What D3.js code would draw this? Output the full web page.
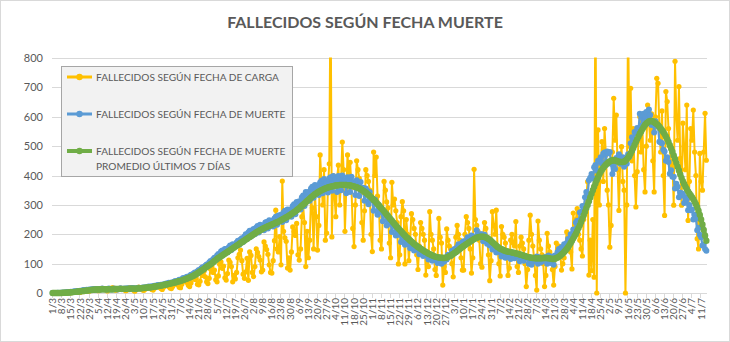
<!DOCTYPE html>
<html><head><meta charset="utf-8">
<script src="https://cdn.jsdelivr.net/npm/d3@7"></script>
<style>body{margin:0;background:#fff}svg{display:block}</style>
</head><body>
<svg id="chart" width="730" height="342"></svg>
<script>
const chartTitle = "FALLECIDOS SEGÚN FECHA MUERTE";
const seriesNames = [
  ["FALLECIDOS SEGÚN FECHA DE CARGA"],
  ["FALLECIDOS SEGÚN FECHA DE MUERTE"],
  ["FALLECIDOS SEGÚN FECHA DE MUERTE", "PROMEDIO ÚLTIMOS 7 DÍAS"]
];
const firstDay = "2020-03-01";
const yTicks = [0,100,200,300,400,500,600,700,800];
const tickLabels = ["1/3","8/3","15/3","22/3","29/3","5/4","12/4","19/4","26/4","3/5","10/5","17/5","24/5","31/5","7/6","14/6","21/6","28/6","5/7","12/7","19/7","26/7","2/8","9/8","16/8","23/8","30/8","6/9","13/9","20/9","27/9","4/10","11/10","18/10","25/10","1/11","8/11","15/11","22/11","29/11","6/12","13/12","20/12","27/12","3/1","10/1","17/1","24/1","31/1","7/2","14/2","21/2","28/2","7/3","14/3","21/3","28/3","4/4","11/4","18/4","25/4","2/5","9/5","16/5","23/5","30/5","6/6","13/6","20/6","27/6","4/7","11/7"];

const carga = [
0,0,0,0,0,0,1, 0,1,1,0,2,1,1, 1,2,4,3,5,4,3, 2,6,8,5,9,7,8, 6,9,12,14,10,13,11,
8,10,14,16,12,15,9, 7,11,16,14,18,12,10, 9,12,15,17,13,14,11, 8,10,16,18,14,12,9, 6,12,17,20,15,13,10,
9,14,19,22,18,16,12, 10,16,24,21,26,20,15, 12,20,28,31,25,22,17, 15,22,34,38,30,28,20, 18,30,44,40,48,36,26,
22,34,52,58,46,50,30, 28,40,68,60,74,55,38, 32,50,82,90,70,78,45, 38,58,98,106,84,92,52, 44,66,112,104,90,38,60,
48,70,120,132,146,110,64, 50,72,118,43,140,128,70, 56,90,150,138,124,112,72, 78,174,160,148,132,96,70, 68,110,178,282,150,140,192,
96,381,210,188,176,85,120, 78,140,225,210,196,237,130, 112,150,260,294,240,90,210, 120,180,320,290,150,340,260, 146,230,470,380,300,420,180,
204,360,440,1050,191,400,330, 260,390,435,300,380,514,420, 210,350,470,400,445,360,220, 158,300,450,420,390,340,240, 180,280,420,400,380,350,200,
141,480,400,463,330,300,180, 150,260,380,350,310,290,170, 120,377,300,320,280,240,99, 130,260,311,280,99,250,200, 110,180,270,250,220,200,130,
80,160,240,220,200,180,61, 140,90,277,200,180,150,80, 60,120,254,190,170,27,90, 70,218,180,160,150,100,55, 140,190,230,200,180,120,78,
78,200,260,240,220,150,68, 120,421,250,230,210,180,100, 88,200,240,220,190,130,42, 110,277,230,200,282,150,100, 58,226,200,190,170,120,60,
85,180,200,170,160,243,90, 70,160,190,170,150,100,22, 80,180,265,200,160,120,60, 10,245,180,150,130,100,22, 60,203,160,140,120,80,27,
90,170,150,160,140,78,100, 120,150,208,190,170,140,82, 272,230,250,287,200,180,150, 126,250,300,330,379,61,180, 76,250,54,1100,0,555,300,
430,515,380,560,470,350,300, 156,230,480,663,520,606,420, 281,450,498,380,350,0,300, 950,500,697,450,560,400,293, 413,520,600,480,560,420,344,
500,640,580,520,610,450,344, 600,731,714,560,480,620,400, 264,686,652,560,500,420,450, 299,789,600,520,703,458,299, 578,500,420,640,247,380,560,
520,623,480,400,185,150,475, 380,350,480,612,452
];

const muerte = [
0,0,0,0,1,0,1, 1,2,1,2,3,2,3, 4,3,5,6,5,7,6, 8,7,9,10,9,11,10, 12,11,13,12,14,13,12,
14,13,12,15,13,14,12, 13,15,14,12,13,15,14, 13,12,14,16,13,14,15, 14,16,15,13,16,17,15, 16,14,17,18,15,17,19,
18,20,17,21,22,19,23, 22,25,21,26,27,24,28, 27,30,28,32,31,35,33, 36,34,38,41,37,42,45, 44,47,51,46,53,55,52,
58,62,59,66,70,67,74, 78,75,84,88,83,93,97, 95,104,109,103,115,120,117, 128,133,126,141,145,138,150, 150,138,156,162,146,166,160,
164,172,178,164,182,186,174, 192,200,184,206,212,192,214, 218,200,222,228,206,232,222, 230,214,240,242,220,248,238, 246,226,254,260,232,264,254,
266,242,274,280,248,284,272, 284,260,296,302,268,310,296, 312,284,326,332,296,344,328, 344,314,356,362,324,368,352, 366,334,376,382,340,388,366,
378,342,390,394,348,398,374, 386,344,398,392,350,400,370, 384,340,394,388,344,396,366, 378,334,384,374,330,378,350, 358,314,356,348,302,344,316,
320,280,318,306,266,300,276, 282,244,276,266,230,258,236, 240,208,236,228,196,218,198, 204,174,198,190,164,182,167, 176,152,172,166,145,160,148,
150,132,148,142,126,138,128, 132,114,128,124,110,120,112, 118,102,120,112,100,114,106, 116,114,130,126,126,144,136, 150,146,156,166,160,166,172,
176,170,176,190,182,188,196, 192,184,192,214,190,196,200, 200,176,198,188,168,172,162, 166,148,158,154,138,148,140, 144,124,142,136,120,138,130,
136,116,134,128,118,126,126, 128,108,126,120,110,118,118, 122,100,120,96,106,110,112, 124,100,122,104,108,116,122, 122,100,128,114,102,124,96,
128,122,140,150,132,156,156, 166,156,170,184,176,200,200, 216,206,240,246,238,274,276, 296,284,326,344,332,384,392, 405,390,428,436,416,450,448,
462,440,474,478,446,482,476, 480,440,405,432,422,460,458, 472,440,456,462,430,458,440, 472,464,510,530,514,548,545, 562,552,610,606,572,610,594,
616,586,625,606,572,580,546, 585,574,566,515,512,510,488, 482,450,462,446,406,418,396, 396,356,372,362,326,342,334, 338,306,326,318,282,300,282,
284,250,266,254,214,222,198, 190,162,164,150,144
];

const promedio = [
0,0,0,0,0,0,0, 0,1,1,1,1,2,2, 2,3,3,4,4,5,5, 6,6,7,7,8,8,9, 9,10,10,11,11,12,12,
12,12,13,13,13,13,13, 13,13,13,13,13,13,14, 14,14,14,14,14,14,14, 14,14,14,15,15,15,15, 15,15,15,16,16,16,17,
17,18,18,19,19,20,20, 21,22,22,23,24,25,25, 26,27,28,29,30,31,32, 33,34,35,36,38,39,40, 41,43,44,46,48,49,51,
53,55,57,59,62,64,67, 70,73,76,79,82,86,89, 92,95,98,101,105,109,112, 116,119,122,125,128,131,134, 137,140,143,146,149,152,155,
158,161,164,167,170,173,176, 179,182,185,188,191,194,197, 200,203,206,209,211,214,216, 219,221,223,225,227,229,231, 233,235,237,239,241,243,245,
248,250,253,255,258,260,263, 266,269,272,275,278,282,285, 289,293,297,301,305,309,313, 317,321,325,329,333,336,339, 342,345,347,350,352,354,356,
358,359,361,362,363,364,365, 366,367,367,368,368,368,368, 368,368,367,367,366,365,364, 363,361,360,358,356,354,351, 348,345,342,338,334,330,326,
322,317,313,308,303,298,293, 288,283,278,272,267,262,256, 251,246,240,235,230,225,220, 215,210,205,200,196,191,187, 183,179,175,171,167,164,160,
157,154,151,148,145,142,139, 137,134,132,130,128,126,124, 123,122,121,120,120,119,119, 120,121,123,125,127,130,133, 136,139,143,146,150,153,157,
160,163,166,169,172,175,178, 181,184,186,188,190,191,192, 192,192,191,189,187,184,181, 177,173,169,165,161,157,154, 151,149,147,145,143,142,141,
140,139,138,137,136,135,134, 133,131,130,129,127,126,124, 123,122,121,120,119,119,118, 118,118,118,118,118,119,119, 119,119,118,118,117,116,116,
117,119,121,124,127,131,135, 140,145,150,156,163,170,178, 186,194,202,211,221,231,242, 253,265,277,289,300,312,325, 338,350,362,373,384,394,404,
413,420,426,432,437,441,445, 448,450,452,452,451,450,448, 447,446,446,446,447,450,455, 461,468,475,484,494,504,514, 524,533,542,550,558,565,572,
577,581,584,586,586,584,581, 578,575,571,566,560,554,548, 541,533,524,514,503,492,481, 468,456,443,430,417,404,392, 381,371,362,354,346,339,333,
326,319,311,302,292,280,266, 250,233,215,196,178
];

const colors = ["#FFC000", "#5B9BD5", "#70AD47"];
const FONT = "Lato, 'Open Sans', sans-serif";
const TEXT = "#595959";

const svg = d3.select("#chart");
const N = muerte.length;
const start = d3.timeParse("%Y-%m-%d")(firstDay);
const categories = d3.timeDay.range(start, d3.timeDay.offset(start, N)).map(d3.timeFormat("%-d/%-m"));

const plot = {x0: 52, x1: 707, y0: 58, y1: 293};
const x = d3.scaleBand().domain(d3.range(N)).range([plot.x0, plot.x1]).padding(0);
const cx = i => x(i) + x.bandwidth() / 2;
const y = d3.scaleLinear().domain([0, 800]).range([plot.y1, plot.y0]);

svg.append("rect").attr("x", 0.5).attr("y", 0.5).attr("width", 729).attr("height", 341)
  .attr("fill", "#fff").attr("stroke", "#d9d9d9");

const t = svg.append("text").attr("x", 365).attr("y", 28).attr("text-anchor", "middle")
  .attr("font-family", FONT).attr("font-weight", "bold").attr("font-size", 18)
  .attr("fill", TEXT).text(chartTitle);
{
  const w = t.node().getComputedTextLength();
  t.attr("font-size", 18 * 276 / w);
}

svg.append("g").selectAll("line").data(yTicks.filter(v => v > 0)).join("line")
  .attr("x1", plot.x0).attr("x2", plot.x1)
  .attr("y1", d => Math.round(y(d)) + 0.5).attr("y2", d => Math.round(y(d)) + 0.5)
  .attr("stroke", "#d9d9d9").attr("stroke-width", 1);

const yAxis = d3.axisLeft(y).tickValues(yTicks).tickSize(0).tickPadding(0);
const yg = svg.append("g").attr("transform", `translate(${plot.x0 - 9},0)`).call(yAxis);
yg.select(".domain").remove();
yg.selectAll("text").attr("font-family", FONT).attr("font-size", 11).attr("fill", TEXT);

const tickIdx = d3.range(0, N, 7);
const xAxis = d3.axisBottom(x).tickValues(tickIdx).tickFormat((d, k) => tickLabels[k]).tickSize(0);
const xg = svg.append("g").attr("transform", `translate(0,${plot.y1})`).call(xAxis);
xg.select(".domain").attr("stroke", "#d9d9d9").attr("d", `M${plot.x0},0.5H${plot.x1}`);
xg.selectAll("text").attr("font-family", FONT).attr("font-size", 10).attr("fill", TEXT)
  .attr("transform", "rotate(-90)").attr("x", -5).attr("y", 0).attr("dy", "0.35em")
  .style("text-anchor", "end");
const tickBounds = d3.range(0, N + 1, 7);
svg.append("g").selectAll("line").data(tickBounds).join("line")
  .attr("x1", d => Math.round(plot.x0 + d * x.bandwidth()) + 0.5)
  .attr("x2", d => Math.round(plot.x0 + d * x.bandwidth()) + 0.5)
  .attr("y1", plot.y1).attr("y2", plot.y1 + 5).attr("stroke", "#d9d9d9");

svg.append("defs").append("clipPath").attr("id", "clip").append("rect")
  .attr("x", 0).attr("y", plot.y0 - 0.5).attr("width", 730).attr("height", 300);

const seriesData = [carga, muerte, promedio];
const lineW = [2, 2.25, 4.5];
const rad = [2.6, 3, 3.2];
const line = d3.line().x((d, i) => cx(i)).y(d => y(d));
const g = svg.append("g").attr("clip-path", "url(#clip)");
seriesData.forEach((arr, s) => {
  g.append("path").datum(arr).attr("d", line).attr("fill", "none")
    .attr("stroke", colors[s]).attr("stroke-width", lineW[s]).attr("stroke-linejoin", "round");
  g.append("g").selectAll("circle").data(arr).join("circle")
    .attr("cx", (d, i) => cx(i)).attr("cy", d => y(d)).attr("r", rad[s]).attr("fill", colors[s]);
});

const lg = svg.append("g");
lg.append("rect").attr("x", 61.5).attr("y", 66.5).attr("width", 231).attr("height", 110)
  .attr("fill", "#f2f2f2").attr("stroke", "#a6a6a6");
const itemY = [77, 114, 151];
let legendScale = null;
seriesNames.forEach((lines, s) => {
  const yy = itemY[s];
  lg.append("line").attr("x1", 67).attr("x2", 92).attr("y1", yy).attr("y2", yy)
    .attr("stroke", colors[s]).attr("stroke-width", s === 2 ? 4 : 3);
  lg.append("circle").attr("cx", 79.5).attr("cy", yy).attr("r", 3.2).attr("fill", colors[s]);
  lines.forEach((txt, k) => {
    const tt = lg.append("text").attr("x", 96).attr("y", yy + k * 15.5).attr("dy", "0.35em")
      .attr("font-family", FONT).attr("font-size", 10).attr("fill", TEXT).text(txt);
    if (legendScale === null) {
      legendScale = 183 / tt.node().getComputedTextLength();
    }
    tt.attr("font-size", 10 * legendScale);
  });
});
</script>
</body></html>
